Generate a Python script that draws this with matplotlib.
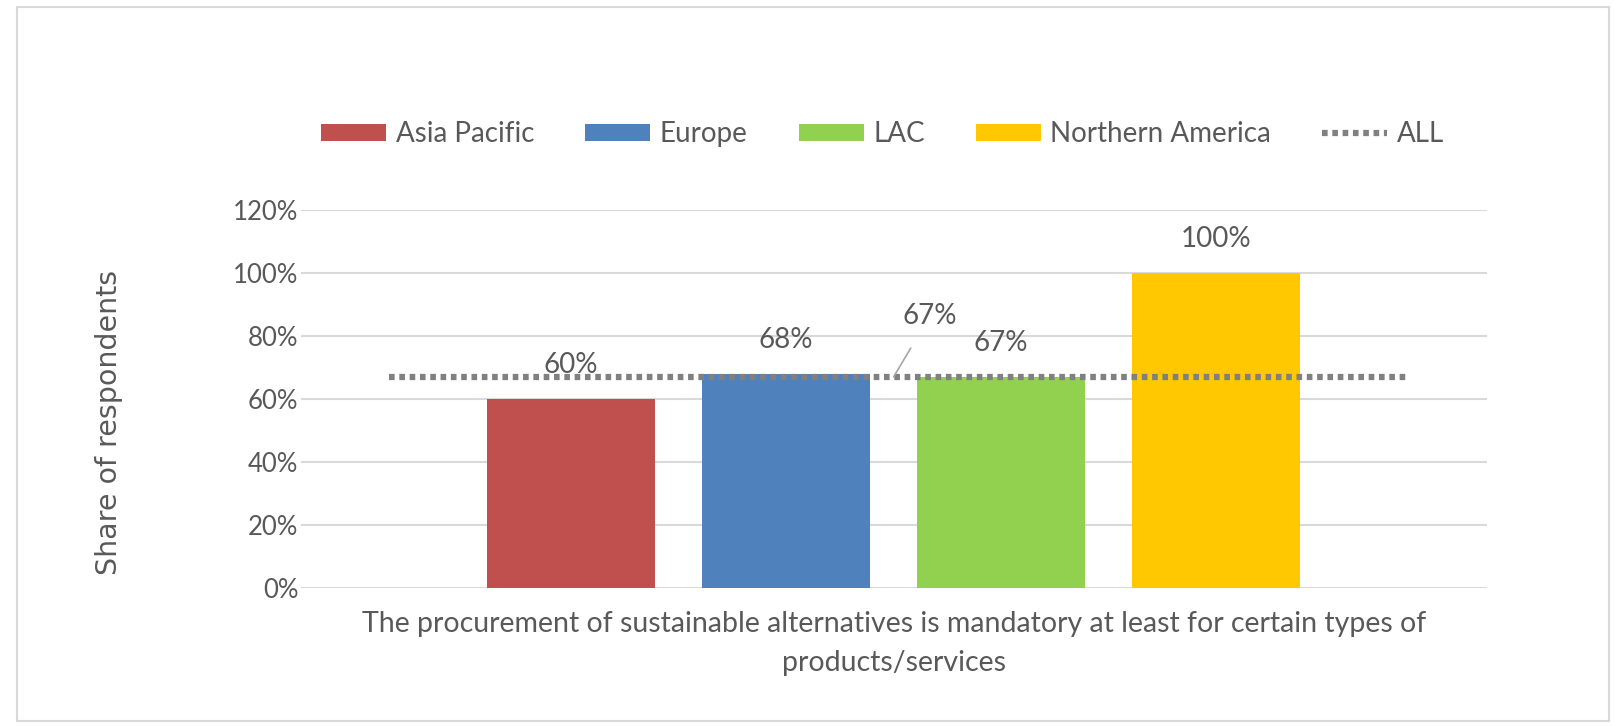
import matplotlib
matplotlib.use("Agg")
import matplotlib.pyplot as plt
from matplotlib.patches import Patch, Rectangle
from matplotlib.lines import Line2D
from matplotlib.ticker import FuncFormatter

regions = ["Asia Pacific", "Europe", "LAC", "Northern America"]
values = [60, 68, 67, 100]
all_value = 67
colors = ["#C0504D", "#4F81BD", "#92D050", "#FFC800"]
yticks = [0, 20, 40, 60, 80, 100, 120]
category = "The procurement of sustainable alternatives is mandatory at least for certain types of\nproducts/services"
ylabel = "Share of respondents"

TXT = "#595959"
plt.rcParams['font.family'] = ['Lato', 'DejaVu Sans']

fig = plt.figure(figsize=(16.15, 7.26), dpi=100)
ax = fig.add_axes([0.1864, 0.190, 0.7343, 0.5207])

pos = list(range(len(regions)))
bars = ax.bar(pos, values, width=0.78, color=colors, zorder=3)
ax.set_xlim(-1.256, 4.26)
ax.set_ylim(0, 120)
ax.set_yticks(yticks)
ax.yaxis.set_major_formatter(FuncFormatter(lambda v, p: f"{v:.0f}%"))
ax.grid(axis='y', color='#D9D9D9', lw=1.5, zorder=0)
ax.set_axisbelow(True)
for s in ax.spines.values():
    s.set_visible(False)
ax.tick_params(axis='y', length=0, labelsize=18.5, labelcolor=TXT, pad=2)
ax.set_xticks([])

# ALL line
ax.axhline(all_value, xmin=0.074, xmax=0.934, color='#808080', lw=4.5,
           linestyle=(0, (0.9, 0.75)), zorder=4)

for p, v in zip(pos, values):
    ax.annotate(f"{v}%", (p, v), xytext=(0, 34), textcoords='offset pixels',
                ha='center', va='center', fontsize=20, color=TXT, zorder=5)

# ALL label with leader line
ax.annotate(f"{all_value}%", xy=(1.5, all_value), xytext=(1.67, 86.5),
            ha='center', va='center', fontsize=20, color=TXT, zorder=5,
            arrowprops=dict(arrowstyle='-', color='#A6A6A6', lw=1.2,
                            shrinkA=14, shrinkB=0))

ax.text(0.5, -0.062, category, transform=ax.transAxes, ha='center', va='top',
        fontsize=20.5, color=TXT, linespacing=1.6)

fig.text(0.0675, 0.418, ylabel, rotation=90, ha='center', va='center',
         fontsize=20.5, color=TXT, family='DejaVu Sans')

handles = [Patch(facecolor=c, edgecolor='none') for c in colors]
handles.append(Line2D([0], [0], color='#808080', lw=4.5, linestyle=(0, (0.9, 0.75))))
labels = regions + ["ALL"]
leg = fig.legend(handles, labels, loc='center', bbox_to_anchor=(0.5465, 0.815),
                 ncol=5, frameon=False, fontsize=20, handlelength=2.34,
                 handleheight=0.61, handletextpad=0.33, columnspacing=1.85)
for t in leg.get_texts():
    t.set_color(TXT)

fig.patches.append(Rectangle((17/1615, 1 - 721/726), (1609-17)/1615, (721-7)/726,
                             transform=fig.transFigure, fill=False,
                             edgecolor='#D9D9D9', lw=1.5))

fig.savefig("out.png", dpi=100)
